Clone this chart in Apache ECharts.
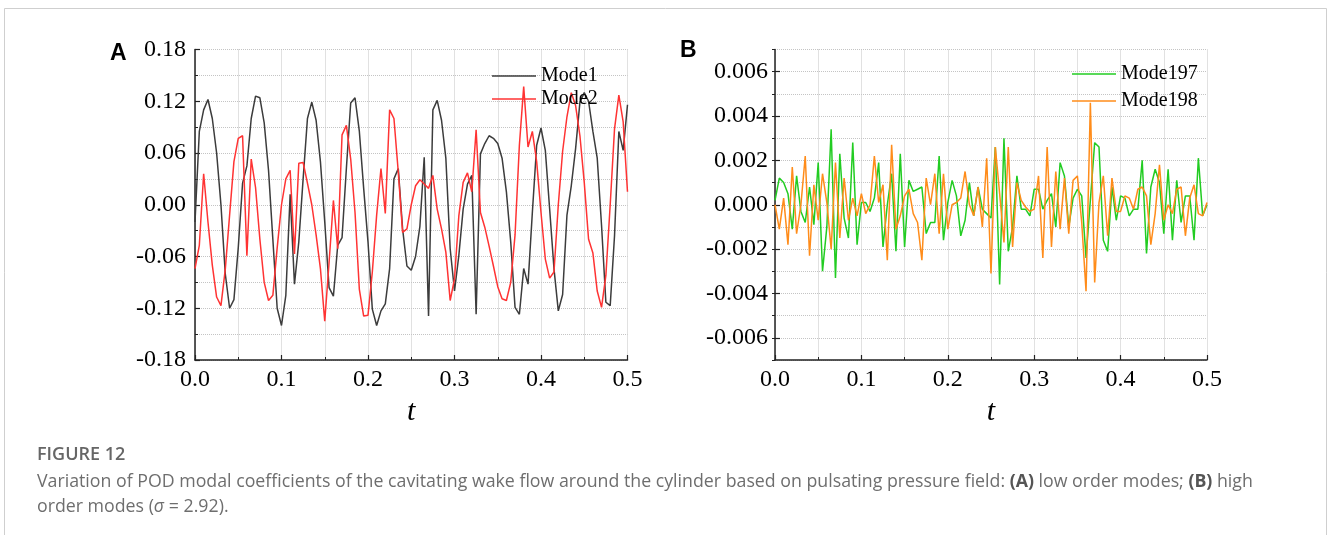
<!DOCTYPE html>
<html>
<head>
<meta charset="utf-8">
<script src="https://cdn.jsdelivr.net/npm/echarts@6/dist/echarts.min.js"></script>
<style>
  html, body { margin: 0; padding: 0; background: #fff; }
  #chart { width: 1328px; height: 535px; }
</style>
</head>
<body>
<div id="chart"></div>
<script>
// sample step of the time series (t from 0 to 0.5)
const dt = 0.005

// panel A: low order modes
const mode1 = [
  -0.02, 0.085, 0.11, 0.122, 0.10, 0.06, 0.0, -0.08, -0.12, -0.11,
  -0.05, 0.025, 0.045, 0.10, 0.126, 0.124, 0.095, 0.04, -0.04, -0.12,
  -0.14, -0.105, 0.012, -0.092, -0.043, 0.03, 0.10, 0.119, 0.098, 0.05,
  -0.02, -0.096, -0.106, -0.047, -0.038, 0.042, 0.118, 0.124, 0.085, 0.019,
  -0.043, -0.121, -0.14, -0.123, -0.115, -0.074, 0.03, 0.042, -0.028, -0.071,
  -0.076, -0.06, -0.025, 0.055, -0.129, 0.11, 0.121, 0.098, 0.054, -0.051,
  -0.10, -0.059, -0.005, 0.024, 0.034, -0.127, 0.059, 0.071, 0.08, 0.077,
  0.071, 0.054, 0.015, -0.043, -0.119, -0.127, -0.074, -0.092, -0.009, 0.069,
  0.089, 0.063, -0.005, -0.074, -0.123, -0.104, -0.012, 0.022, 0.065, 0.119,
  0.13, 0.12, 0.085, 0.054, -0.024, -0.113, -0.117, -0.036, 0.085, 0.063,
  0.116
]
const mode2 = [
  -0.074, -0.047, 0.036, -0.02, -0.07, -0.107, -0.117, -0.075, -0.012, 0.05,
  0.077, 0.08, -0.059, 0.053, 0.02, -0.04, -0.09, -0.111, -0.105, -0.05,
  0.0, 0.03, 0.04, -0.057, 0.048, 0.049, 0.025, 0.0, -0.035, -0.074,
  -0.135, -0.067, 0.005, -0.051, 0.081, 0.092, 0.053, -0.009, -0.098, -0.129,
  -0.128, -0.078, -0.012, 0.042, -0.01, 0.11, 0.10, 0.038, -0.032, -0.028,
  0.0, 0.022, 0.029, 0.024, 0.019, 0.034, -0.005, -0.028, -0.055, -0.111,
  -0.086, -0.013, 0.026, 0.037, 0.015, 0.087, -0.009, -0.026, -0.048, -0.071,
  -0.095, -0.109, -0.111, -0.09, -0.035, 0.069, 0.137, 0.067, 0.085, 0.05,
  -0.009, -0.063, -0.085, -0.078, 0.0, 0.062, 0.102, 0.13, 0.115, 0.08,
  0.026, -0.04, -0.056, -0.10, -0.119, -0.082, 0.0, 0.088, 0.127, 0.096,
  0.015
]

// panel B: high order modes
const mode197 = [
  0.0002, 0.0012, 0.001, 0.0005, -0.0011, 0.0013, -0.0003, -0.0008, 0.0008, -0.0009,
  0.0019, -0.003, -0.001, 0.0034, -0.0033, 0.0023, -0.0006, -0.0015, 0.0028, -0.0018,
  0.0001, 0.0001, -0.0003, 0.0003, 0.0019, -0.0019, 0.0, 0.0014, -0.0021, 0.0023,
  -0.0019, 0.0011, 0.0006, 0.0007, 0.0008, -0.0013, -0.0008, -0.0008, 0.0022, -0.0016,
  0.0001, 0.0011, 0.0004, -0.0014, -0.0007, 0.001, -0.0005, 0.0008, -0.0002, -0.0004,
  -0.0006, 0.0026, -0.0036, 0.003, -0.0021, -0.001, 0.0013, -0.0002, -0.0002, -0.0005,
  0.0007, 0.0007, -0.0002, 0.0002, 0.0005, -0.001, 0.0019, 0.0013, -0.001, 0.0003,
  0.0007, 0.0004, -0.0024, 0.0002, 0.0028, 0.0026, -0.0016, -0.0021, 0.0008, -0.0007,
  0.0004, 0.0003, -0.0005, -0.0002, -0.0002, 0.002, -0.0022, 0.0008, 0.0016, 0.001,
  -0.0013, 0.0016, -0.0016, 0.0011, -0.0008, 0.0004, 0.0004, -0.0016, 0.0021, -0.0005,
  0.0
]
const mode198 = [
  0.0, -0.0011, 0.0003, -0.0018, 0.0017, -0.0013, 0.0, 0.0022, -0.0023, 0.0009,
  -0.0007, 0.0014, 0.0001, -0.002, 0.0019, -0.0015, 0.0012, -0.0007, 0.0003, -0.0005,
  0.0005, -0.0004, 0.0, 0.0022, 0.0001, 0.0009, -0.0025, 0.0027, -0.0011, -0.0005,
  0.0004, 0.0007, -0.0004, -0.0008, -0.0025, 0.0012, 0.0, 0.0014, -0.0013, 0.0014,
  -0.0011, 0.0, 0.0001, 0.0003, 0.0015, 0.0, -0.0005, 0.0008, -0.001, 0.0021,
  -0.0031, 0.0026, 0.0005, -0.0017, 0.0026, -0.0019, 0.001, 0.0002, -0.0001, -0.0003,
  -0.0002, 0.0013, -0.0024, 0.0026, -0.0019, 0.0015, -0.0011, 0.0012, -0.0013, 0.0011,
  0.0013, -0.0008, -0.0039, 0.0046, -0.0035, 0.0001, 0.0013, -0.0014, 0.0012, -0.0003,
  -0.0003, 0.0004, 0.0003, -0.0002, 0.0007, 0.0008, 0.0004, -0.0018, -0.0004, 0.0018,
  -0.0007, 0.0, -0.0004, 0.0007, 0.0008, -0.0014, 0.0003, 0.0009, -0.0004, -0.0005,
  0.0001
]

const yTicksB = [-0.006, -0.004, -0.002, 0, 0.002, 0.004, 0.006]

const serif = 'Liberation Serif'
const axisColor = '#222'
const gridColor = '#c4c4c4'

function toPairs (arr) {
  return arr.map((v, i) => [+(i * dt).toFixed(3), v])
}

function xAxisOf (gridIndex) {
  return {
    type: 'value',
    gridIndex: gridIndex,
    min: 0,
    max: 0.5,
    interval: 0.1,
    name: 't',
    nameLocation: 'middle',
    nameGap: 34,
    nameTextStyle: { fontFamily: serif, fontStyle: 'italic', fontSize: 30, color: '#000' },
    axisLine: { show: true, onZero: false, lineStyle: { color: axisColor, width: 1.5 } },
    axisTick: { inside: true, length: 5, lineStyle: { color: axisColor, width: 1.2 } },
    minorTick: { show: true, splitNumber: 2, length: 3, lineStyle: { color: axisColor, width: 1 } },
    axisLabel: {
      margin: 8,
      fontFamily: serif,
      fontSize: 24,
      color: '#000',
      formatter: v => v.toFixed(1)
    },
    splitLine: { show: true, lineStyle: { color: gridColor, type: 'dotted', width: 1 } },
    minorSplitLine: { show: true, lineStyle: { color: gridColor, type: 'dotted', width: 1 } }
  }
}

const myChart = echarts.init(document.getElementById('chart'))

const legendText = { fontFamily: serif, fontSize: 20, color: '#000' }

const option = {
  animation: false,
  backgroundColor: '#fff',
  graphic: [
    {
      type: 'rect',
      shape: { x: 4.5, y: 8.5, width: 1322, height: 540 },
      style: { fill: 'none', stroke: '#cfcfcf', lineWidth: 1 },
      silent: true
    }
  ],
  title: [
    { text: 'A', left: 110, top: 42, padding: 0, textStyle: { fontFamily: 'Liberation Sans', fontWeight: 'bold', fontSize: 23, color: '#000' } },
    { text: 'B', left: 680, top: 39, padding: 0, textStyle: { fontFamily: 'Liberation Sans', fontWeight: 'bold', fontSize: 23, color: '#000' } },
    { text: 'FIGURE 12', left: 37, top: 446, padding: 0, textStyle: { fontFamily: 'Open Sans', fontWeight: 600, fontSize: 18, color: '#666' } },
    {
      text: 'Variation of POD modal coefficients of the cavitating wake flow around the cylinder based on pulsating pressure field: {b|(A)} low order modes; {b|(B)} high\norder modes ({i|σ} = 2.92).',
      left: 37,
      top: 469,
      padding: 0,
      textStyle: {
        fontFamily: 'Open Sans',
        fontWeight: 'normal',
        fontSize: 17.75,
        lineHeight: 25,
        color: '#6e6e6e',
        rich: {
          b: { fontFamily: 'Open Sans', fontWeight: 'bold', fontSize: 17.75, lineHeight: 25, color: '#555' },
          i: { fontFamily: 'Open Sans', fontStyle: 'italic', fontSize: 17.75, lineHeight: 25, color: '#6e6e6e' }
        }
      }
    }
  ],
  legend: [
    {
      data: ['Mode1', 'Mode2'],
      orient: 'vertical',
      left: 492,
      top: 66,
      padding: 0,
      icon: 'rect',
      itemWidth: 44,
      itemHeight: 1.6,
      itemGap: 3,
      textStyle: legendText
    },
    {
      data: ['Mode197', 'Mode198'],
      orient: 'vertical',
      left: 1072,
      top: 64,
      padding: 0,
      icon: 'rect',
      itemWidth: 44,
      itemHeight: 1.6,
      itemGap: 7,
      textStyle: legendText
    }
  ],
  grid: [
    { left: 195, right: 700.5, top: 49.5, bottom: 175, containLabel: false },
    { left: 775, right: 121, top: 49.5, bottom: 175, containLabel: false }
  ],
  xAxis: [xAxisOf(0), xAxisOf(1)],
  yAxis: [
    {
      type: 'value',
      gridIndex: 0,
      min: -0.18,
      max: 0.18,
      interval: 0.06,
      axisLine: { show: true, onZero: false, lineStyle: { color: axisColor, width: 1.5 } },
      axisTick: { inside: true, length: 5, lineStyle: { color: axisColor, width: 1.2 } },
      minorTick: { show: true, splitNumber: 2, length: 3, lineStyle: { color: axisColor, width: 1 } },
      axisLabel: {
        margin: 9,
        fontFamily: serif,
        fontSize: 24,
        color: '#000',
        formatter: v => v.toFixed(2)
      },
      splitLine: { show: true, lineStyle: { color: gridColor, type: 'dotted', width: 1 } },
      minorSplitLine: { show: true, lineStyle: { color: gridColor, type: 'dotted', width: 1 } }
    },
    {
      type: 'value',
      gridIndex: 1,
      min: -0.007,
      max: 0.007,
      interval: 0.001,
      axisLine: { show: true, onZero: false, lineStyle: { color: axisColor, width: 1.5 } },
      axisTick: { inside: true, length: 5, customValues: yTicksB, lineStyle: { color: axisColor, width: 1.2 } },
      axisLabel: {
        margin: 7,
        fontFamily: serif,
        fontSize: 24,
        color: '#000',
        customValues: yTicksB,
        formatter: v => v.toFixed(3)
      },
      splitLine: { show: true, lineStyle: { color: gridColor, type: 'dotted', width: 1 } }
    },
    {
      // short ticks at every 0.001 on panel B
      type: 'value',
      gridIndex: 1,
      min: -0.007,
      max: 0.007,
      interval: 0.001,
      axisLine: { show: false },
      axisTick: { inside: true, length: 3, lineStyle: { color: axisColor, width: 1 } },
      axisLabel: { show: false },
      splitLine: { show: true, lineStyle: { color: gridColor, type: 'dotted', width: 1 } }
    }
  ],
  series: [
    {
      name: 'Mode1',
      type: 'line',
      xAxisIndex: 0,
      yAxisIndex: 0,
      data: toPairs(mode1),
      symbol: 'none',
      color: '#3c3c3c',
      lineStyle: { width: 1.5 }
    },
    {
      name: 'Mode2',
      type: 'line',
      xAxisIndex: 0,
      yAxisIndex: 0,
      data: toPairs(mode2),
      symbol: 'none',
      color: '#ff3333',
      lineStyle: { width: 1.5 }
    },
    {
      name: 'Mode197',
      type: 'line',
      xAxisIndex: 1,
      yAxisIndex: 1,
      data: toPairs(mode197),
      symbol: 'none',
      color: '#22cc22',
      lineStyle: { width: 1.5 }
    },
    {
      name: 'Mode198',
      type: 'line',
      xAxisIndex: 1,
      yAxisIndex: 1,
      data: toPairs(mode198),
      symbol: 'none',
      color: '#ff8c1a',
      lineStyle: { width: 1.5 }
    }
  ]
}

myChart.setOption(option)
window.addEventListener('resize', () => {
  myChart.resize()
})
</script>
</body>
</html>
